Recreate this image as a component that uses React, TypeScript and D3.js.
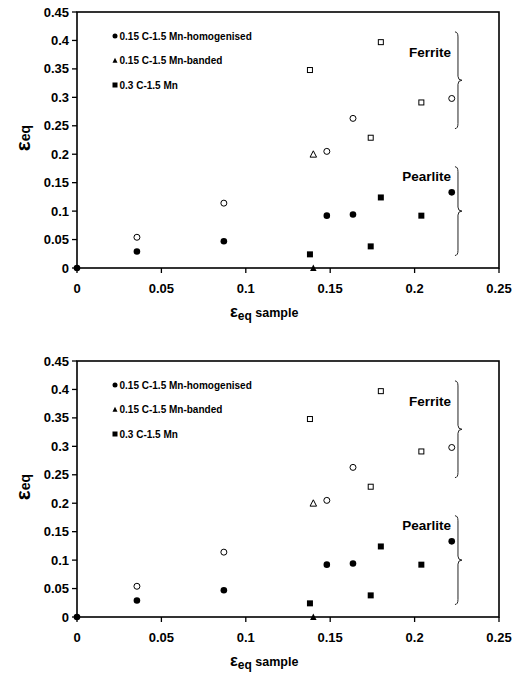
import React from 'react';
import * as d3 from 'd3';

// 0.15 C-1.5 Mn-homogenised
const homPearliteX = [0, 0.0355, 0.087, 0.148, 0.1635, 0.222];
const homPearliteY = [0, 0.029, 0.047, 0.092, 0.094, 0.133];
const homFerriteX = [0.0355, 0.087, 0.148, 0.1635, 0.222];
const homFerriteY = [0.054, 0.114, 0.205, 0.263, 0.298];

// 0.15 C-1.5 Mn-banded
const bandPearliteX = [0.14];
const bandPearliteY = [0];
const bandFerriteX = [0.14];
const bandFerriteY = [0.2];

// 0.3 C-1.5 Mn
const c03PearliteX = [0.138, 0.174, 0.18, 0.204];
const c03PearliteY = [0.024, 0.038, 0.124, 0.092];
const c03FerriteX = [0.138, 0.174, 0.18, 0.204];
const c03FerriteY = [0.348, 0.229, 0.397, 0.291];

const xTicks = [0, 0.05, 0.1, 0.15, 0.2, 0.25];
const yTicks = [0, 0.05, 0.1, 0.15, 0.2, 0.25, 0.3, 0.35, 0.4, 0.45];
const legendLabels = ['0.15 C-1.5 Mn-homogenised', '0.15 C-1.5 Mn-banded', '0.3 C-1.5 Mn'];

// brace ranges: [label, yTop, yBottom]
const braces: [string, number, number][] = [
  ['Ferrite', 0.415, 0.245],
  ['Pearlite', 0.178, 0.022],
];
const braceX = 0.2257;

const FONT = '"Liberation Sans", Arial, sans-serif';

const zip = (xs: number[], ys: number[]) => xs.map((x, i) => [x, ys[i]] as [number, number]);

const Marker = ({ shape, filled, x, y, s }: { shape: string; filled: boolean; x: number; y: number; s: number }) => {
  const fill = filled ? '#000' : '#fff';
  const stroke = '#000';
  const sw = filled ? 0 : 1;
  if (shape === 'circle') return <circle cx={x} cy={y} r={s / 2} fill={fill} stroke={stroke} strokeWidth={sw} />;
  if (shape === 'square')
    return <rect x={x - s / 2} y={y - s / 2} width={s} height={s} fill={fill} stroke={stroke} strokeWidth={sw} />;
  const h = s * 0.9;
  return (
    <path
      d={`M${x},${y - h / 2 - 0.5} L${x + s / 2},${y + h / 2} L${x - s / 2},${y + h / 2} Z`}
      fill={fill}
      stroke={stroke}
      strokeWidth={sw}
    />
  );
};

const Chart = ({ top }: { top: number }) => {
  const left = 77;
  const right = 499;
  const bottom = top + 256;
  const x = d3.scaleLinear().domain([0, 0.25]).range([left, right]);
  const y = d3.scaleLinear().domain([0, 0.45]).range([bottom, top]);

  const series = [
    { pts: zip(homFerriteX, homFerriteY), shape: 'circle', filled: false, s: 6 },
    { pts: zip(bandFerriteX, bandFerriteY), shape: 'triangle', filled: false, s: 6.5 },
    { pts: zip(c03FerriteX, c03FerriteY), shape: 'square', filled: false, s: 5 },
    { pts: zip(homPearliteX, homPearliteY), shape: 'circle', filled: true, s: 6.6 },
    { pts: zip(bandPearliteX, bandPearliteY), shape: 'triangle', filled: true, s: 6.5 },
    { pts: zip(c03PearliteX, c03PearliteY), shape: 'square', filled: true, s: 6 },
  ];
  const legendShapes = ['circle', 'triangle', 'square'];

  const bx = x(braceX);
  const bracePath = (y0: number, y1: number) => {
    const ym = (y0 + y1) / 2;
    return `M${bx - 3},${y0} Q${bx},${y0} ${bx},${y0 + 5} L${bx},${ym - 4} Q${bx},${ym} ${bx + 4},${ym} Q${bx},${ym} ${bx},${ym + 4} L${bx},${y1 - 5} Q${bx},${y1} ${bx - 3},${y1}`;
  };

  return (
    <g fontFamily={FONT} fontWeight="bold">
      <rect x={left} y={top} width={right - left} height={bottom - top} fill="none" stroke="#000" strokeWidth={1.6} />
      {yTicks.map(t => (
        <g key={'y' + t}>
          <line x1={left - 5} x2={left} y1={y(t)} y2={y(t)} stroke="#000" strokeWidth={1.3} />
          <text x={left - 8} y={y(t) + 4.5} textAnchor="end" fontSize={13}>
            {d3.format('')(t)}
          </text>
        </g>
      ))}
      {xTicks.map(t => (
        <g key={'x' + t}>
          <line x1={x(t)} x2={x(t)} y1={bottom} y2={bottom + 5} stroke="#000" strokeWidth={1.3} />
          <text x={x(t)} y={bottom + 25} textAnchor="middle" fontSize={13}>
            {d3.format('')(t)}
          </text>
        </g>
      ))}
      <text transform={`translate(30,${(top + bottom) / 2 - 2}) rotate(-90)`} textAnchor="middle">
        <tspan fontSize={21}>ε</tspan>
        <tspan fontSize={14}>eq</tspan>
      </text>
      <text x={230} y={bottom + 49}>
        <tspan fontSize={16.5}>ε</tspan>
        <tspan fontSize={12} dy={3}>eq</tspan>
        <tspan fontSize={12.5} dy={-3}>{'\u00a0sample'}</tspan>
      </text>
      {legendLabels.map((l, i) => (
        <g key={l}>
          <Marker shape={legendShapes[i]} filled={true} x={115} y={top + 24 + i * 24.5} s={5} />
          <text x={119.5} y={top + 27.5 + i * 24.5} fontSize={10}>
            {l}
          </text>
        </g>
      ))}
      {braces.map(([label, a, b]) => (
        <g key={label}>
          <path d={bracePath(y(a), y(b))} fill="none" stroke="#222" strokeWidth={1} />
          <text x={bx - 7} y={label === 'Ferrite' ? top + 45 : top + 169} textAnchor="end" fontSize={13.5}>
            {label}
          </text>
        </g>
      ))}
      {series.map((sr, si) =>
        sr.pts.map(([px, py], i) => (
          <Marker key={si + '-' + i} shape={sr.shape} filled={sr.filled} x={x(px)} y={y(py)} s={sr.s} />
        ))
      )}
    </g>
  );
};

export default function App() {
  return (
    <div style={{ position: 'absolute', left: 0, top: 0 }}>
      <svg width={514} height={674} style={{ display: 'block', background: '#fff' }}>
        <Chart top={12} />
        <Chart top={361} />
      </svg>
    </div>
  );
}
